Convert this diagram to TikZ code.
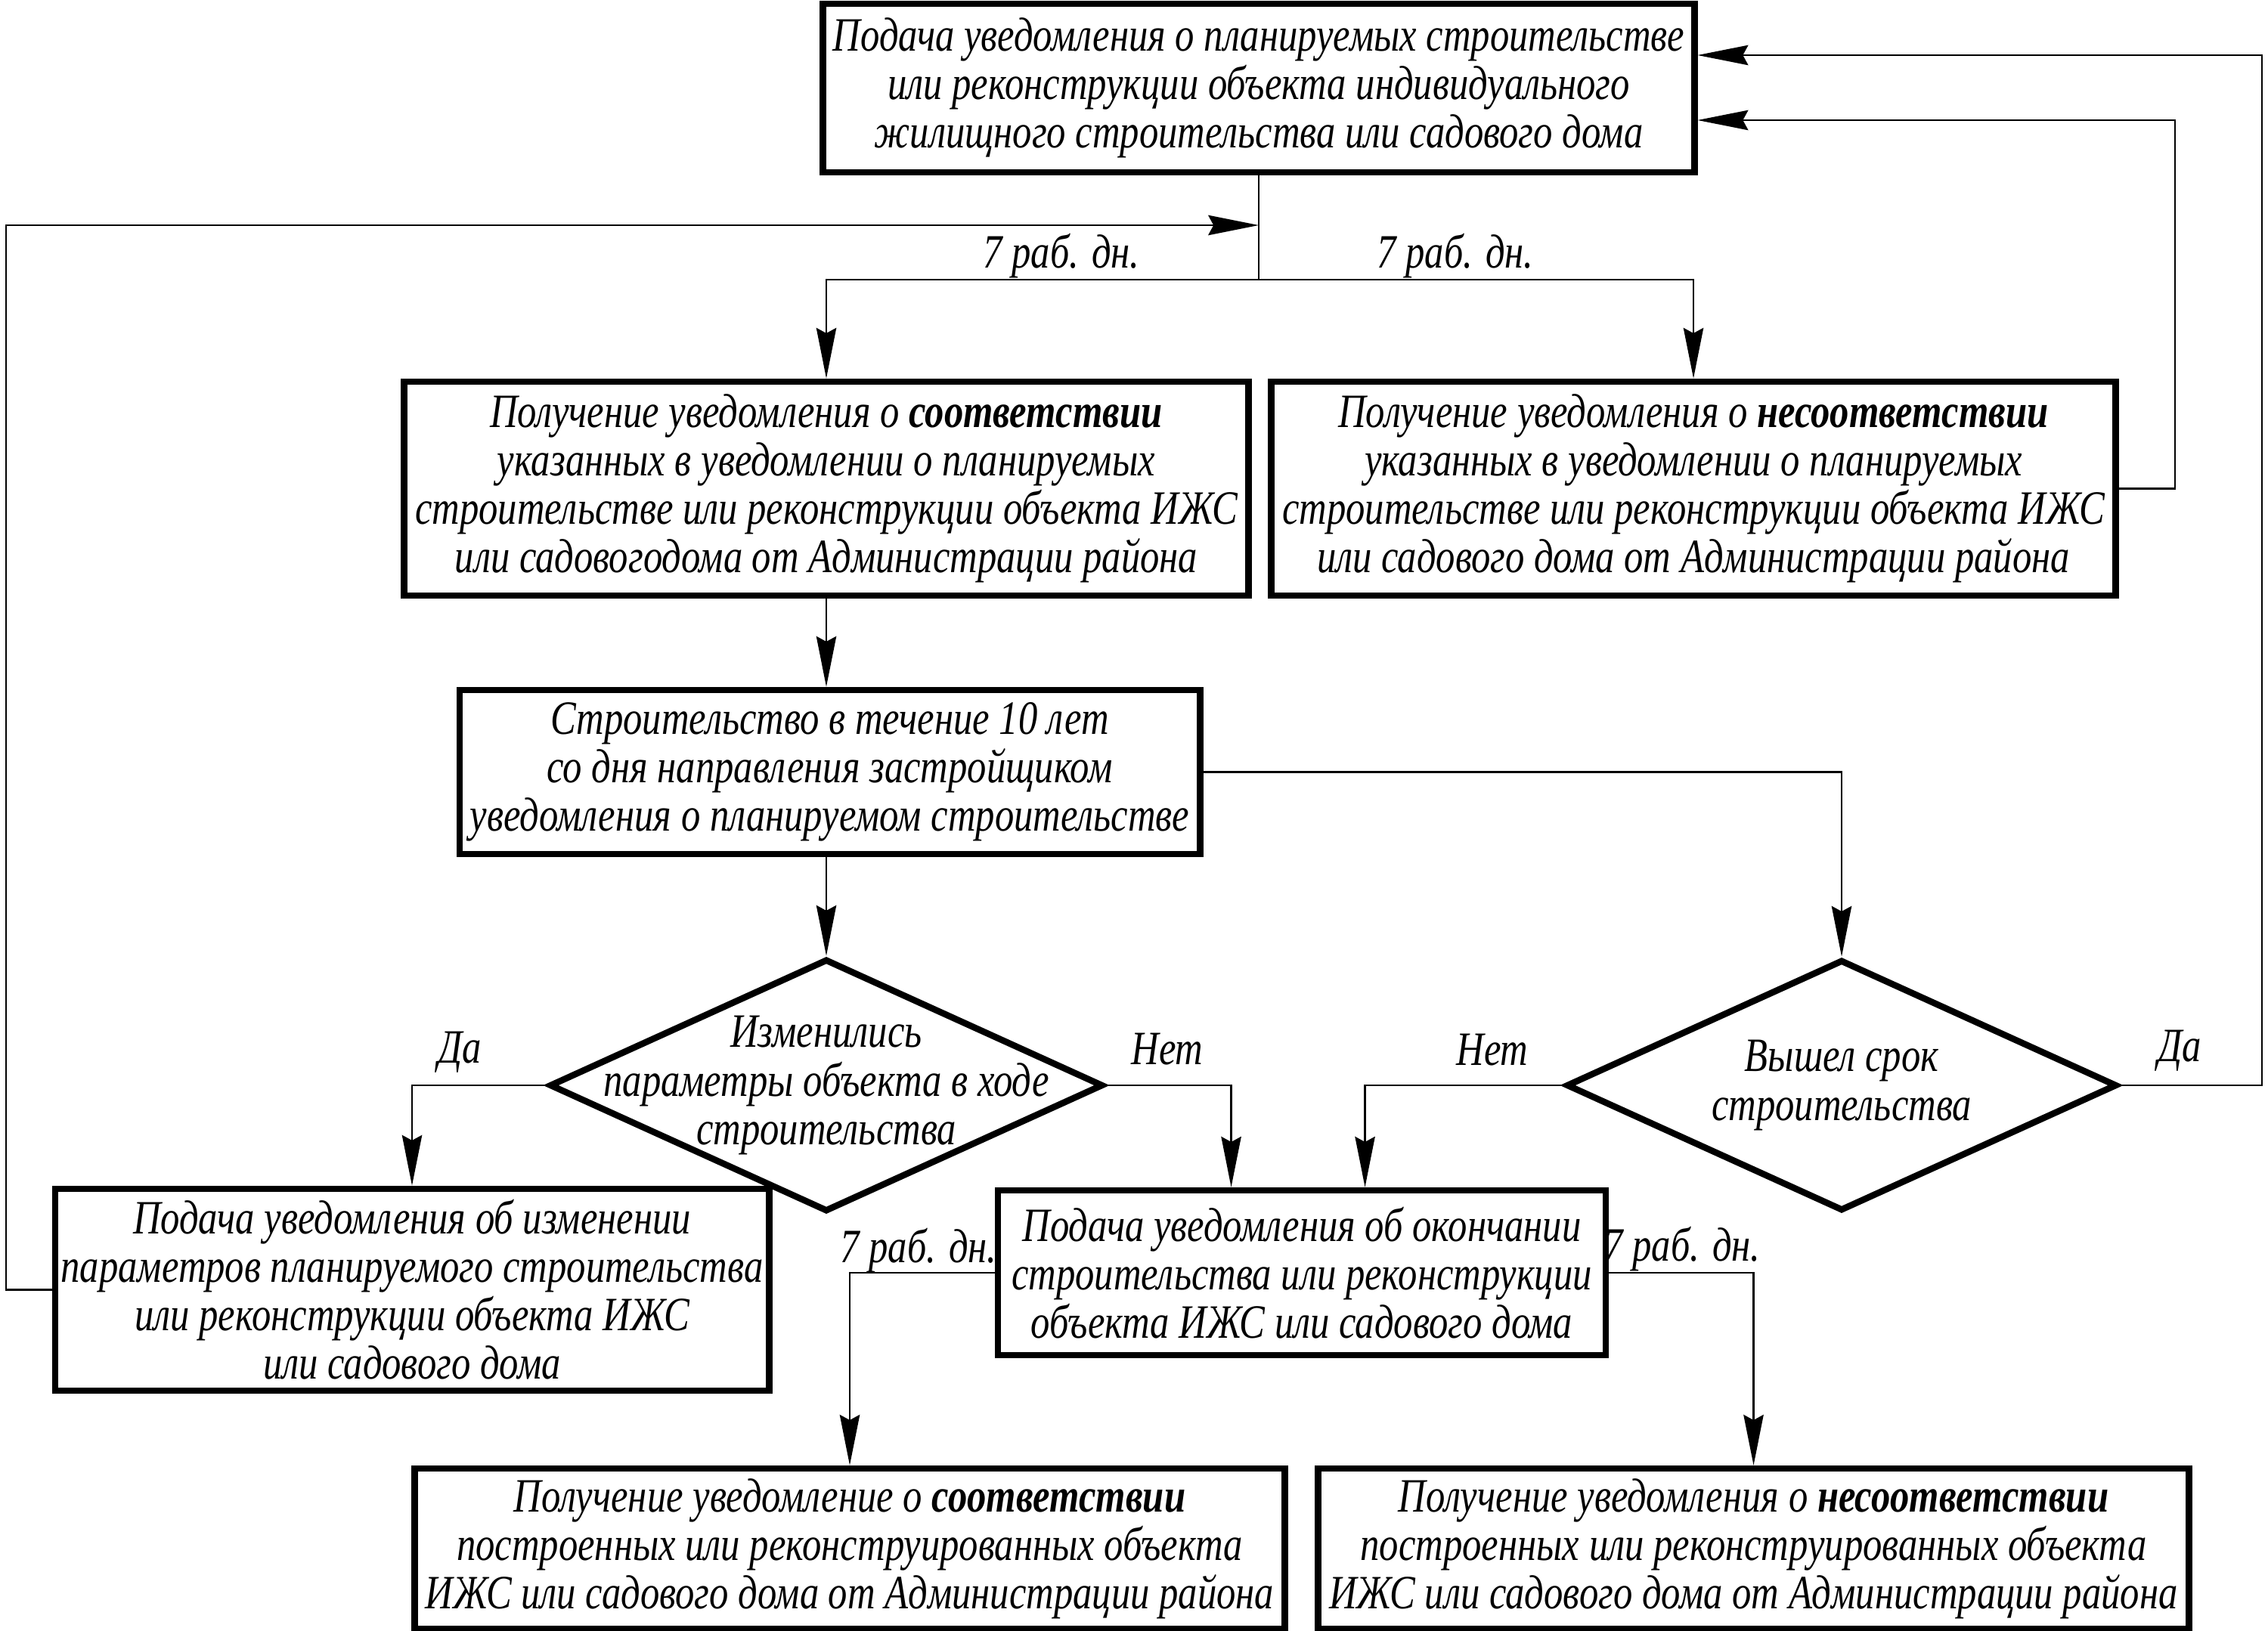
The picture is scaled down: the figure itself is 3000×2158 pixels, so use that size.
\documentclass[tikz,border=0pt]{standalone}
\usepackage{fontspec}
\setmainfont{Liberation Serif}[FakeStretch=0.80]
\usetikzlibrary{shapes.geometric,arrows.meta,calc}
\newcommand\boxfont{\fontsize{18pt}{18.2pt}\selectfont\itshape}
\newcommand\topfont{\fontsize{18pt}{18.2pt}\selectfont\itshape}
\begin{document}
\begin{tikzpicture}[x=0.01cm,y=-0.01cm,
  box/.style={draw, line width=2.4pt, rectangle, inner sep=0pt, align=center, font=\boxfont},
  dec/.style={draw, diamond, line width=2.4pt, inner sep=0pt},
  ln/.style={line width=0.7pt},
  arr/.style={line width=0.7pt, -{Stealth[length=19pt,width=7.5pt,inset=2pt]}},
  lbl/.style={inner sep=0pt, align=center, font=\boxfont},
]
\useasboundingbox[fill=white] (0,0) rectangle (3000,2158);

\node[box, font=\topfont, minimum width=11.52cm, minimum height=2.23cm] (top) at (1665,116.5)
  {Подача уведомления о планируемых строительстве\\или реконструкции объекта индивидуального\\жилищного строительства или садового дома};
\node[box, minimum width=11.16cm, minimum height=2.83cm] (b2) at (1093,646.5)
  {Получение уведомления о \textbf{соответствии}\\указанных в уведомлении о планируемых\\строительстве или реконструкции объекта ИЖС\\или садовогодома от Администрации района};
\node[box, minimum width=11.16cm, minimum height=2.83cm] (b3) at (2240,646.5)
  {Получение уведомления о \textbf{несоответствии}\\указанных в уведомлении о планируемых\\строительстве или реконструкции объекта ИЖС\\или садового дома от Администрации района};
\node[box, minimum width=9.79cm, minimum height=2.17cm] (b4) at (1097.5,1021.5)
  {Строительство в течение 10 лет\\со дня направления застройщиком\\уведомления о планируемом строительстве};
\node[dec, minimum width=7.32cm, minimum height=3.34cm] (d1) at (1093,1436) {};
\node[lbl] (d1t) at (d1.center) {Изменились\\параметры объекта в ходе\\строительства};
\node[dec, minimum width=7.28cm, minimum height=3.32cm] (d2) at (2436,1436) {};
\node[lbl] (d2t) at (d2.center) {Вышел срок\\строительства};
\node[box, minimum width=9.44cm, minimum height=2.67cm] (b5) at (545,1706.5)
  {Подача уведомления об изменении\\параметров планируемого строительства\\или реконструкции объекта ИЖС\\или садового дома};
\node[box, minimum width=8.04cm, minimum height=2.18cm] (b6) at (1722,1684)
  {Подача уведомления об окончании\\строительства или реконструкции\\объекта ИЖС или садового дома};
\node[box, minimum width=11.50cm, minimum height=2.12cm] (b7) at (1124,2049)
  {Получение уведомление о \textbf{соответствии}\\построенных или реконструированных объекта\\ИЖС или садового дома от Администрации района};
\node[box, minimum width=11.51cm, minimum height=2.12cm] (b8) at (2319.5,2049)
  {Получение уведомления о \textbf{несоответствии}\\построенных или реконструированных объекта\\ИЖС или садового дома от Администрации района};

\coordinate (split) at (1665,370);
\coordinate (lc) at (8,298);
\coordinate (rc1) at (2877,159);
\coordinate (rc2) at (2992,73);

\draw[ln] (top.south) -- (split);
\draw[arr] (split) -| (b2.north);
\draw[arr] (split) -| (b3.north);
\draw[arr] (b5.west) -| (lc) -- (lc -| top.south);
\draw[arr] (b3.east) -| (rc1) -- (rc1 -| top.east);
\draw[arr] (d2.east) -| (rc2) -- (rc2 -| top.east);
\draw[arr] (b2.south) -- (b2.south |- b4.north);
\draw[arr] (d1.north |- b4.south) -- (d1.north);
\draw[arr] (b4.east) -| (d2.north);
\draw[arr] (d1.west) -| (b5.north);
\draw[arr] (d1.east) -| ($(b6.north west)+(313,0)$);
\draw[arr] (d2.west) -| ($(b6.north west)+(490,0)$);
\draw[arr] (b6.west) -| (b7.north);
\draw[arr] (b6.east) -| (b8.north);

\node[lbl] (t1) at (1404,339) {7 раб. дн.};
\node[lbl] (t2) at (1925,339) {7 раб. дн.};
\node[lbl] (t3) at (608,1392) {Да};
\node[lbl] (t4) at (1544,1388) {Нет};
\node[lbl] (t5) at (1974,1389) {Нет};
\node[lbl] (t6) at (2883,1390) {Да};
\node[lbl] (t7) at (1215,1655) {7 раб. дн.};
\node[lbl] (t8) at (2225,1653) {7 раб. дн.};
\end{tikzpicture}
\end{document}
